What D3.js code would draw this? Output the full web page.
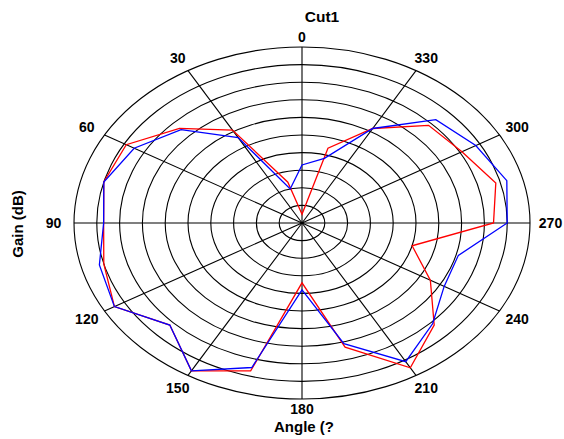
<!DOCTYPE html>
<html>
<head>
<meta charset="utf-8">
<script src="https://cdn.jsdelivr.net/npm/d3@7"></script>
<style>
  html, body { margin: 0; padding: 0; background: #fff; }
  svg { display: block; }
  text { font-family: "Liberation Sans", Arial, sans-serif; font-weight: bold; fill: #000; }
</style>
</head>
<body>
<div id="chart"></div>
<script>
// ---- data ----
const angles = [0, 15, 30, 45, 60, 75, 90, 105, 120, 135, 150, 165,
                180, 195, 210, 225, 240, 255, 270, 285, 300, 315, 330, 345];
const redGain = [-47.5, -38, -19.5, -12, -5.5, -5, -6.5, -5, -2.5, -9, -1.5, -6.5,
                 -33, -13.5, -2.5, -9, -17.5, -25, -8, -6, -9.5, -10.75, -19, -28];
const blueGain = [-33.5, -40, -22, -12.5, -7.5, -5, -6.5, -4, -2.5, -9, -1.5, -7.5,
                  -31, -14.5, -4.5, -9.5, -14, -14.5, -5, -3.5, -6, -8.5, -19, -31];
const tickAngles = [0, 30, 60, 90, 120, 150, 180, 210, 240, 270, 300, 330];
const tickLabels = ["0", "30", "60", "90", "120", "150", "180", "210", "240", "270", "300", "330"];
const ringValues = [-45, -40, -35, -30, -25, -20, -15, -10, -5, 0];
const titleText = "Cut1";
const xTitle = "Angle (?";
const yTitle = "Gain (dB)";

// ---- layout ----
const W = 564, H = 439;
const cx = 302, cy = 223;
const RX = 228, RY = 176;

const svg = d3.select("#chart").append("svg")
  .attr("width", W).attr("height", H);

const rScale = d3.scaleLinear().domain([-50, 0]).range([0, 1]);
const aScale = d3.scaleLinear().domain([0, 360]).range([0, 2 * Math.PI]);

const px = (a, v) => cx - rScale(v) * RX * Math.sin(aScale(a));
const py = (a, v) => cy - rScale(v) * RY * Math.cos(aScale(a));

// rings
svg.append("g").selectAll("ellipse").data(ringValues).join("ellipse")
  .attr("cx", cx).attr("cy", cy)
  .attr("rx", d => rScale(d) * RX)
  .attr("ry", d => rScale(d) * RY)
  .attr("fill", "none").attr("stroke", "#000").attr("stroke-width", 1.1);

// spokes
svg.append("g").selectAll("line").data(tickAngles).join("line")
  .attr("x1", cx).attr("y1", cy)
  .attr("x2", d => px(d, 0)).attr("y2", d => py(d, 0))
  .attr("stroke", "#000").attr("stroke-width", 1.1);

// tick labels
const labelRX = 248.5;
const labelRY = a => 186 + 7 * Math.sqrt(Math.abs(Math.sin(aScale(a))));
svg.append("g").selectAll("text").data(tickAngles).join("text")
  .attr("x", d => cx - labelRX * Math.sin(aScale(d)))
  .attr("y", d => cy - labelRY(d) * Math.cos(aScale(d)))
  .attr("text-anchor", "middle")
  .attr("dominant-baseline", "central")
  .attr("font-size", 14)
  .text((d, i) => tickLabels[i]);

// series
const line = d3.line()
  .x(d => px(d[0], d[1]))
  .y(d => py(d[0], d[1]))
  .curve(d3.curveLinearClosed);

svg.append("path")
  .datum(angles.map((a, i) => [a, redGain[i]]))
  .attr("d", line)
  .attr("fill", "none").attr("stroke", "#ff0000").attr("stroke-width", 1.3);

svg.append("path")
  .datum(angles.map((a, i) => [a, blueGain[i]]))
  .attr("d", line)
  .attr("fill", "none").attr("stroke", "#0000ff").attr("stroke-width", 1.3);

// titles
svg.append("text").attr("x", 322).attr("y", 22)
  .attr("text-anchor", "middle").attr("font-size", 15.5).text(titleText);

svg.append("text").attr("x", 304).attr("y", 432)
  .attr("text-anchor", "middle").attr("font-size", 15).text(xTitle);

svg.append("text")
  .attr("transform", "translate(23,224) rotate(-90)")
  .attr("text-anchor", "middle").attr("font-size", 15).text(yTitle);
</script>
</body>
</html>
